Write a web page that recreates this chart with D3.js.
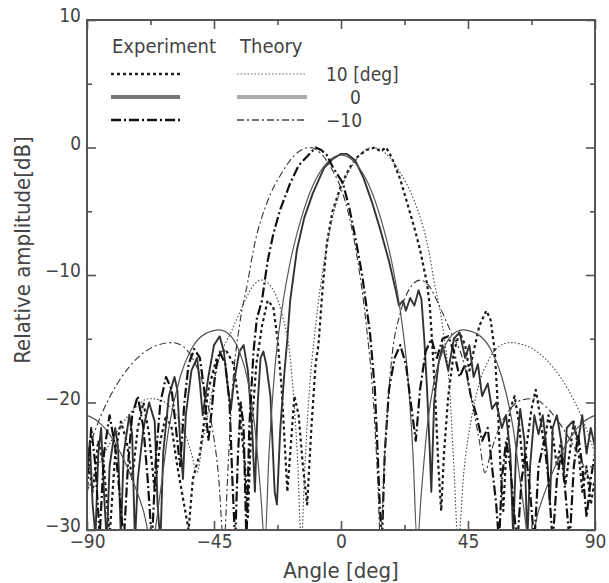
<!DOCTYPE html>
<html>
<head>
<meta charset="utf-8">
<script src="https://cdn.jsdelivr.net/npm/d3@7"></script>
<style>
  body { margin: 0; background: #fff; }
  text { font-family: "DejaVu Sans Condensed", "DejaVu Sans", sans-serif; font-stretch: condensed; fill: #444; }
</style>
</head>
<body>
<script>
// values: [angle deg, relative amplitude dB]
var exp10 = [[-90,-24],[-88,-27],[-86,-23],[-84,-25],[-82,-30.5],[-80,-24],[-78,-21.5],[-76,-23],[-74,-26],[-72,-22],
  [-70,-20],[-68,-22.5],[-66,-27],[-64,-23],[-62,-21],[-60,-22],[-58,-25],[-56,-27.5],[-54,-30],[-52.5,-26],
  [-50,-24],[-47,-19],[-44,-16.5],[-41,-15.8],[-38,-17],[-36,-20.5],[-34,-25],[-33,-29],[-32,-23],[-30,-17],
  [-28,-14],[-26,-12],[-24,-12.5],[-22.5,-15],[-21,-19],[-20,-23],[-19,-27],[-18,-24],[-16.5,-19.5],[-15,-21],
  [-13.5,-25],[-12,-28],[-10.5,-22],[-9,-17],[-8,-15.5],[-6.5,-11],[-5,-7.5],[-3,-5],[0,-3],[3,-1.6],
  [6,-0.7],[9,-0.2],[12,0],[14,-0.3],[16,0],[18,-0.8],[21,-2.5],[23,-4],[26,-6.3],[28,-8],
  [30.5,-10.7],[31.5,-12.5],[32.5,-16],[33.5,-20],[34.5,-25],[35.5,-28.5],[36.5,-24],[38,-19.5],[40,-16],[42,-14.5],
  [44,-15.5],[45.5,-17.5],[47,-16],[49,-14],[51.5,-12.8],[53,-13.5],[54.5,-16],[55.5,-20],[56.5,-25],[57.5,-28.5],
  [58.5,-24],[60,-20.5],[61.5,-19.5],[63,-21.5],[64.5,-25],[66,-23],[67.5,-20.5],[69,-19],[70.5,-21],[72,-23.5],
  [73.5,-21],[75,-22.5],[76.5,-25],[78,-23],[79.5,-26.5],[81,-24],[82.5,-21.5],[84,-23.5],[85.5,-27],[87,-25],
  [88.5,-28],[90,-26]];

var exp0 = [[-90,-26],[-89,-23],[-88,-28],[-87,-30.5],[-86,-24],[-85,-22],[-84,-27],[-83,-31],[-82,-25],[-80,-22],
  [-79,-23.5],[-78,-30.5],[-77,-24],[-75,-21],[-74,-22.5],[-73,-31],[-72,-26],[-70,-22],[-68,-20],[-66,-21.5],
  [-65,-28],[-64,-31],[-63,-24],[-61,-19.5],[-59,-18],[-58,-19],[-57,-23],[-56,-26],[-55,-21],[-53,-17.5],
  [-51,-16.5],[-50,-18.5],[-49,-21],[-47,-18],[-45,-15.5],[-43,-14.8],[-41.5,-16],[-40,-19],[-39,-20.5],[-38,-18.5],
  [-36,-16],[-34.5,-15.5],[-33,-17.5],[-31.5,-22],[-30.5,-27],[-29.5,-20],[-28.5,-16.5],[-27.5,-16],[-26.5,-17],[-25,-19.5],
  [-23.5,-27],[-22.7,-28],[-21.5,-22],[-20,-17.5],[-19,-15],[-18,-12],[-15.6,-8],[-13,-5.5],[-10,-3.6],[-6,-1.6],
  [-3,-0.9],[0,-0.5],[2,-0.5],[5,-1],[8,-2.4],[11,-4.3],[14,-6.5],[17,-8.9],[19.5,-11.3],[20.5,-12.4],
  [22,-12],[23,-12.8],[24.5,-11.8],[26,-12.4],[27.5,-11.2],[28.5,-11.9],[29.5,-15],[30.5,-19],[31.5,-24],[32,-27],
  [33,-20],[34.5,-17],[36,-15.5],[38,-17.5],[40,-15],[42,-14.5],[44,-16.5],[45.5,-15.5],[47,-18],[48.5,-17],
  [50,-19.5],[52,-18.5],[53.5,-20.5],[55,-20],[57,-22],[58.5,-21],[60,-24],[61,-30.5],[62,-24],[63.5,-20.5],
  [65,-23],[66,-31],[67,-25],[68.5,-21],[70,-22.5],[71.5,-21],[73,-24],[74,-28],[75,-22],[76.5,-21],
  [78,-23],[79,-25.5],[80,-22],[82,-21.5],[84,-23],[85.5,-21],[87,-24],[88.5,-22],[90,-23.5]];

var expM10 = [[-90,-27],[-88.5,-22],[-87,-25],[-85.5,-30.5],[-84,-24],[-82,-21],[-80,-23.5],[-78.5,-27],[-77,-31],[-75.5,-25],
  [-74,-21],[-72,-19.5],[-70,-22],[-68.5,-26],[-67,-31],[-65.5,-24],[-64,-20],[-62,-18],[-60,-19],[-58.5,-22],
  [-57,-25],[-55.5,-20],[-54,-17],[-52,-15.8],[-50,-16.5],[-48.5,-19],[-47,-23],[-46,-21],[-44.5,-17.5],[-43,-16],
  [-41,-17],[-39.5,-20],[-38.5,-26],[-37.5,-31],[-36.5,-24],[-35.5,-20],[-34.5,-22],[-33.5,-31],[-32.5,-22],[-31,-16],
  [-29.8,-13.4],[-28,-12],[-26,-8.9],[-24,-6.8],[-21.6,-4.9],[-18,-2.8],[-15,-1.4],[-12,-0.7],[-9,0],[-7,-0.2],
  [-5,-0.6],[-3,-1.5],[0.7,-2.8],[3,-4.8],[5,-7],[7.5,-10],[10.3,-14.6],[12,-19],[13,-24],[13.8,-28.4],
  [14.5,-31],[15.5,-24],[17,-19],[19,-16.5],[21,-15.5],[23,-17],[25,-20.5],[26.5,-23],[28,-19],[30,-16],
  [32,-15],[34,-16.5],[36,-15],[38,-14.8],[40,-16],[42,-18],[44,-17],[46,-19.5],[48,-21],[50,-23],
  [52,-22],[53.5,-25],[55,-28],[56,-31],[57,-26],[58.5,-23],[60,-25],[61.5,-29],[62.5,-31],[64,-26],
  [65.5,-24],[67,-27],[68.5,-31],[70,-25],[72,-23],[73.5,-26],[75,-31],[76.5,-26],[78,-24],[79.5,-27],
  [81,-31],[82.5,-25],[84,-22.5],[85.5,-25],[87,-29],[88.5,-26],[90,-24]];

var th10 = [[-90,-27],[-85,-24.5],[-80,-22.5],[-76,-21.2],[-72,-20.2],[-68,-19.7],[-64,-19.8],[-60,-20.5],[-56,-22],[-53,-24],
  [-51,-25.5],[-49,-23],[-46,-19.5],[-43,-16.5],[-39,-14.5],[-35,-12.5],[-31,-10.8],[-28,-10.4],[-24.5,-11],[-21,-13],
  [-18,-16.5],[-15.5,-24],[-14,-31],[-13,-26],[-11.5,-20],[-9,-14],[-6,-9],[-3,-5.5],[0,-3.2],[3,-1.8],
  [7,-0.5],[11,0],[16,-0.5],[21,-2],[26,-4.2],[31,-8],[33,-10.5],[36,-14],[38.5,-19],[40,-25],
  [41.5,-31],[43.5,-25.5],[46,-21.5],[49,-18.5],[52,-16.8],[56,-15.6],[60,-15.3],[65,-15.5],[70,-16.1],[75,-17.2],
  [80,-18.8],[85,-21],[90,-24]];

var th0 = [[-90,-21],[-86,-21.5],[-82,-22.5],[-78,-24],[-74,-26],[-70,-28.5],[-67,-31],[-64,-27],[-61,-22],[-57,-18],
  [-53,-15.8],[-48,-14.6],[-43,-14.3],[-39,-14.8],[-36,-16],[-33,-18.3],[-30.5,-22],[-28.5,-27],[-27,-31],[-25.5,-24],
  [-23.5,-17.5],[-21,-12.8],[-18,-9],[-14,-5.5],[-10,-3],[-5,-1.2],[0,-0.6],[5,-1.2],[10,-3],[14,-5.5],
  [18,-9],[21,-12.8],[23.5,-17.5],[25.5,-24],[27,-31],[28.5,-27],[30.5,-22],[33,-18.3],[36,-16],[39,-14.8],
  [43,-14.3],[48,-14.6],[53,-15.8],[57,-18],[61,-22],[64,-27],[67,-31],[70,-28.5],[74,-26],[78,-24],
  [82,-22.5],[86,-21.5],[90,-21]];

var thM10 = [[-90,-24],[-85,-21],[-80,-18.8],[-75,-17.2],[-70,-16.1],[-65,-15.5],[-60,-15.3],[-56,-15.6],[-52,-16.8],[-49,-18.5],
  [-46,-21.5],[-43.5,-25.5],[-41.5,-31],[-40,-25],[-38.5,-19],[-36,-14],[-33,-10.5],[-31,-8],[-26,-4.2],[-21,-2],
  [-16,-0.5],[-11,0],[-7,-0.5],[-3,-1.8],[0,-3.2],[3,-5.5],[6,-9],[9,-14],[11.5,-20],[13,-26],
  [14,-31],[15.5,-24],[18,-16.5],[21,-13],[24.5,-11],[28,-10.4],[31,-10.8],[35,-12.5],[39,-14.5],[43,-16.5],
  [46,-19.5],[49,-23],[51,-25.5],[53,-24],[56,-22],[60,-20.5],[64,-19.8],[68,-19.7],[72,-20.2],[76,-21.2],
  [80,-22.5],[85,-24.5],[90,-27]];

var xMajor = [-90, -45, 0, 45, 90];
var xMinor = [-67.5, -22.5, 22.5, 67.5];
var yMajor = [-30, -20, -10, 0, 10];
var yMinor = [-25, -15, -5, 5];

// line styles for each series
var series = [
  {name: "exp10",  data: exp10,  theory: false, stroke: "#1a1a1a", width: 2.2, dash: "3,3"},
  {name: "th10",   data: th10,   theory: true,  stroke: "#444",    width: 1.1, dash: "1.5,2"},
  {name: "exp0",   data: exp0,   theory: false, stroke: "#333",    width: 1.9, dash: null},
  {name: "th0",    data: th0,    theory: true,  stroke: "#555",    width: 1.2, dash: null},
  {name: "expM10", data: expM10, theory: false, stroke: "#111",    width: 2.2, dash: "10,3,2,3"},
  {name: "thM10",  data: thM10,  theory: true,  stroke: "#333",    width: 1.1, dash: "7,3,2,3"}
];

var W = 609, H = 583;
var margin = {top: 20, right: 14, bottom: 53, left: 87};

var svg = d3.select("body").append("svg")
    .attr("width", W)
    .attr("height", H);

var x = d3.scaleLinear().domain([-90, 90]).range([margin.left, W - margin.right]);
var y = d3.scaleLinear().domain([-30, 10]).range([H - margin.bottom, margin.top]);

svg.append("clipPath").attr("id", "plotclip")
  .append("rect")
    .attr("x", x(-90)).attr("y", y(10))
    .attr("width", x(90) - x(-90)).attr("height", y(-30) - y(10));

// curves
var lineExp = d3.line()
    .x(function(d) { return x(d[0]); })
    .y(function(d) { return y(d[1]); });
var lineTh = d3.line()
    .curve(d3.curveMonotoneX)
    .x(function(d) { return x(d[0]); })
    .y(function(d) { return y(d[1]); });

var curves = svg.append("g").attr("clip-path", "url(#plotclip)");
curves.selectAll("path")
    .data(series)
  .enter().append("path")
    .attr("fill", "none")
    .attr("stroke", function(d) { return d.stroke; })
    .attr("stroke-width", function(d) { return d.width; })
    .attr("stroke-dasharray", function(d) { return d.dash; })
    .attr("stroke-linejoin", "round")
    .attr("d", function(d) { return d.theory ? lineTh(d.data) : lineExp(d.data); });

// axes, ticks pointing inward on all four sides
function styleAxis(g) {
  g.select(".domain").remove();
  g.selectAll(".tick line").attr("stroke", "#555").attr("stroke-width", 1.6);
  g.selectAll(".tick text").attr("font-size", 19).attr("fill", "#444");
}

svg.append("g")
    .attr("transform", "translate(0," + y(-30) + ")")
    .call(d3.axisBottom(x).tickValues(xMajor).tickSize(-9).tickPadding(5).tickFormat(d3.format("d")))
    .call(styleAxis);
svg.append("g")
    .attr("transform", "translate(0," + y(-30) + ")")
    .call(d3.axisBottom(x).tickValues(xMinor).tickSize(-5).tickFormat(""))
    .call(styleAxis);
svg.append("g")
    .attr("transform", "translate(0," + y(10) + ")")
    .call(d3.axisTop(x).tickValues(xMajor).tickSize(-9).tickFormat(""))
    .call(styleAxis);
svg.append("g")
    .attr("transform", "translate(0," + y(10) + ")")
    .call(d3.axisTop(x).tickValues(xMinor).tickSize(-5).tickFormat(""))
    .call(styleAxis);

svg.append("g")
    .attr("transform", "translate(" + x(-90) + ",0)")
    .call(d3.axisLeft(y).tickValues(yMajor).tickSize(-9).tickPadding(6).tickFormat(d3.format("d")))
    .call(styleAxis)
  .selectAll(".tick text").attr("dy", "0.1em");
svg.append("g")
    .attr("transform", "translate(" + x(-90) + ",0)")
    .call(d3.axisLeft(y).tickValues(yMinor).tickSize(-5).tickFormat(""))
    .call(styleAxis);
svg.append("g")
    .attr("transform", "translate(" + x(90) + ",0)")
    .call(d3.axisRight(y).tickValues(yMajor).tickSize(-9).tickFormat(""))
    .call(styleAxis);
svg.append("g")
    .attr("transform", "translate(" + x(90) + ",0)")
    .call(d3.axisRight(y).tickValues(yMinor).tickSize(-5).tickFormat(""))
    .call(styleAxis);

// frame
svg.append("rect")
    .attr("x", x(-90)).attr("y", y(10))
    .attr("width", x(90) - x(-90)).attr("height", y(-30) - y(10))
    .attr("fill", "none")
    .attr("stroke", "#555")
    .attr("stroke-width", 2);

// axis titles
svg.append("text")
    .attr("x", (x(-90) + x(90)) / 2)
    .attr("y", H - 5)
    .attr("text-anchor", "middle")
    .attr("font-size", 22)
    .text("Angle [deg]");
svg.append("text")
    .attr("transform", "translate(30,250) rotate(-90)")
    .attr("text-anchor", "middle")
    .attr("font-size", 22)
    .text("Relative amplitude[dB]");

// legend
var legendRows = [
  {label: "10 [deg]", exp: series[0], th: series[1]},
  {label: "0",        exp: series[2], th: series[3]},
  {label: "\u221210",  exp: series[4], th: series[5]}
];
var leg = svg.append("g");
leg.append("text").attr("x", 112).attr("y", 53).attr("font-size", 20).text("Experiment");
leg.append("text").attr("x", 240).attr("y", 53).attr("font-size", 20).text("Theory");

var legendLineStyle = {
  "exp10":  {stroke: "#222", width: 2.4},
  "th10":   {stroke: "#666", width: 1.2},
  "exp0":   {stroke: "#777", width: 4},
  "th0":    {stroke: "#aaa", width: 4},
  "expM10": {stroke: "#111", width: 2.6},
  "thM10":  {stroke: "#444", width: 1.4}
};
legendRows.forEach(function(r, i) {
  var yy = 74 + i * 23;
  [[r.exp, 111, 180], [r.th, 237, 307]].forEach(function(s) {
    var st = legendLineStyle[s[0].name];
    leg.append("line")
        .attr("x1", s[1]).attr("x2", s[2])
        .attr("y1", yy).attr("y2", yy)
        .attr("stroke", st.stroke)
        .attr("stroke-width", st.width)
        .attr("stroke-dasharray", s[0].dash);
  });
  leg.append("text")
      .attr("x", i === 1 ? 350 : 326)
      .attr("y", yy + 7)
      .attr("font-size", 19)
      .text(r.label);
});
</script>
</body>
</html>
